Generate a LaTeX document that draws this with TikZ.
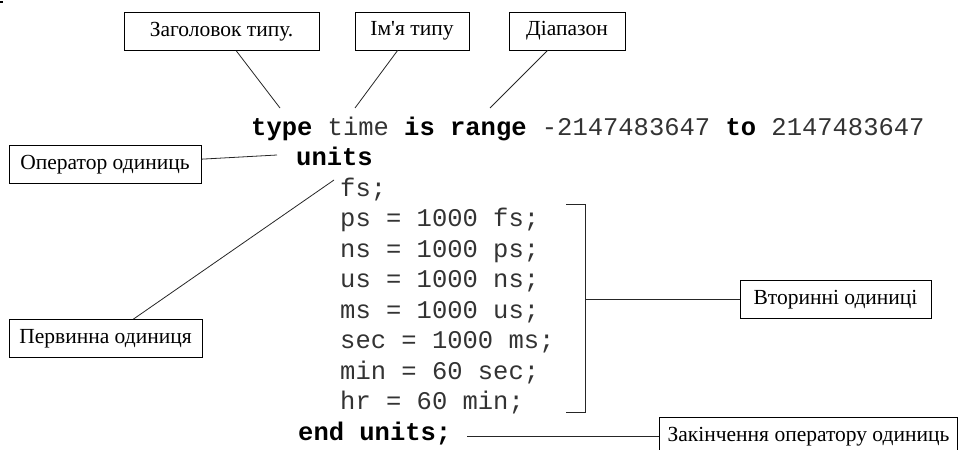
\documentclass[tikz,border=0pt]{standalone}
\usepackage{fontspec}
\setmainfont{Liberation Serif}
\newfontfamily\codefont{Liberation Mono}
\begin{document}
\begin{tikzpicture}[x=1pt,y=-1pt,
  lbl/.style={draw=black, line width=0.8pt, inner sep=0pt, minimum height=38pt,
              font=\fontsize{21.5}{24}\selectfont},
  code/.style={anchor=base west, inner sep=0pt, text=black!80,
               font=\codefont\fontsize{25.5}{30}\selectfont},
  kw/.style={},
  conn/.style={draw=black!85, line width=0.8pt}]
\useasboundingbox (0,0) rectangle (959,450);

% small mark in the corner
\fill (0,1) rectangle (3,3);

% label boxes
\node[lbl, minimum width=195pt] (hdr)   at (221.5,31.5) {Заголовок типу.};
\node[lbl, minimum width=114pt] (tname) at (412,31)     {Ім\textquotesingle я типу};
\node[lbl, minimum width=116pt] (rng)   at (567,31)     {Діапазон};
\node[lbl, minimum width=192pt] (uop)   at (105,164.5)  {Оператор одиниць};
\node[lbl, minimum width=193pt] (prim)  at (105.5,338.5){Первинна одиниця};
\node[lbl, minimum width=191pt] (sec)   at (835.5,299.5){Вторинні одиниці};
\node[lbl, minimum width=298pt] (uend)  at (808.5,436.5){Закінчення оператору одиниць};

% VHDL source lines; keywords in black bold
\newcommand{\vkw}[1]{\textcolor{black}{\textbf{#1}}}
\node[code] (ltype)  at (251,135)   {\vkw{type} time \vkw{is} \vkw{range} -2147483647 \vkw{to} 2147483647};
\node[code] (lunits) at (296,165.5) {\vkw{units}};
\node[code] (lfs)    at (340,196)   {fs;};
\node[code] (lps)    at (340,226.5) {ps = 1000 fs;};
\node[code] (lns)    at (340,257)   {ns = 1000 ps;};
\node[code] (lus)    at (340,287.5) {us = 1000 ns;};
\node[code] (lms)    at (340,318)   {ms = 1000 us;};
\node[code] (lsec)   at (340,348.5) {sec = 1000 ms;};
\node[code] (lmin)   at (340,379)   {min = 60 sec;};
\node[code] (lhr)    at (340,409.5) {hr = 60 min;};
\node[code] (lend)   at (298,440)   {\vkw{end units;}};

% connector end points next to the code
\coordinate (ctype)  at (280,108);
\coordinate (cname)  at (355,108);
\coordinate (crng)   at (490,108);
\coordinate (cunits) at (277,155);
\coordinate (cfs)    at (334,180);
\coordinate (cend)   at (467,436.5);

% bracket round the secondary units
\coordinate (bra) at (566,204);
\coordinate (brb) at (585,204);
\coordinate (brc) at (585,412);
\coordinate (brd) at (566,412);
\coordinate (brm) at (585,299.5);

\draw[conn] (ctype)  -- (hdr);
\draw[conn] (cname)  -- (tname);
\draw[conn] (crng)   -- (rng);
\draw[conn] (cunits) -- (uop);
\draw[conn] (cfs)    -- (prim);
\draw[conn] (bra) -- (brb) -- (brc) -- (brd);
\draw[conn] (brm) -- (sec);
\draw[conn] (cend) -- (uend);
\end{tikzpicture}
\end{document}
